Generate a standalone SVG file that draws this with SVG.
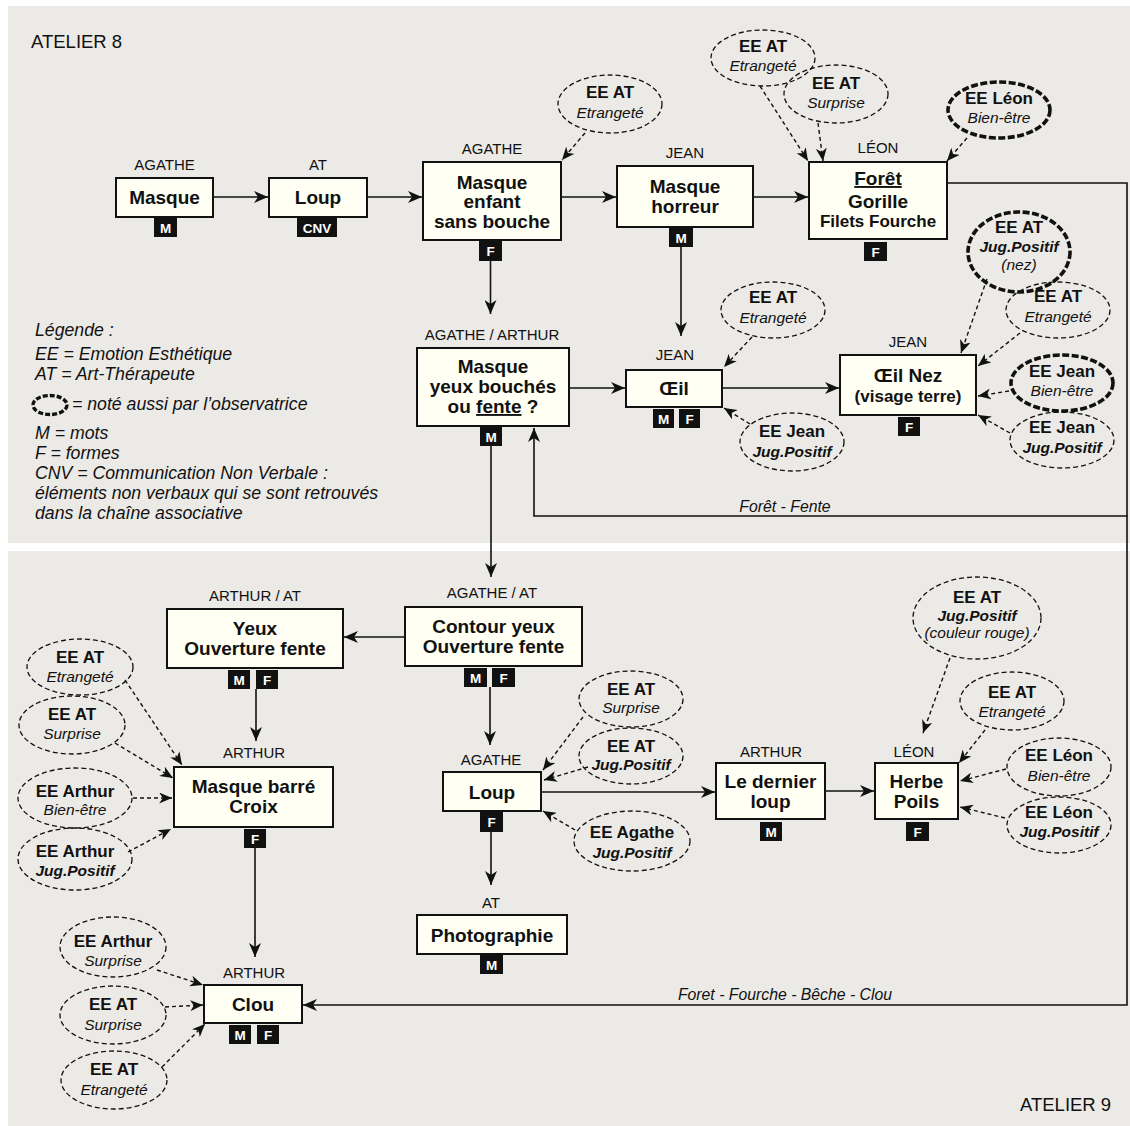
<svg xmlns="http://www.w3.org/2000/svg" width="1130" height="1126" viewBox="0 0 1130 1126">
<defs>
<style>
.bg{fill:#eceae6}
.box{fill:#fffff3;stroke:#111;stroke-width:2}
.tag{fill:#111}
.tagt{font:bold 13.5px "Liberation Sans",Arial,sans-serif;fill:#fff;text-anchor:middle}
.who{font:15px "Liberation Sans",Arial,sans-serif;fill:#111;text-anchor:middle}
.nt{font:bold 19px "Liberation Sans",Arial,sans-serif;fill:#111;text-anchor:middle}
.ns{font:bold 17px "Liberation Sans",Arial,sans-serif;fill:#111;text-anchor:middle}
.ee{fill:none;stroke:#111;stroke-width:1.3;stroke-dasharray:5 3}
.obs{fill:none;stroke:#111;stroke-width:3.6;stroke-dasharray:7 2.5}
.eb{font:bold 17px "Liberation Sans",Arial,sans-serif;fill:#111;text-anchor:middle}
.ei{font:italic 15.5px "Liberation Sans",Arial,sans-serif;fill:#111;text-anchor:middle}
.ebi{font:bold italic 15.5px "Liberation Sans",Arial,sans-serif;fill:#111;text-anchor:middle}
.leg{font:italic 17.7px "Liberation Sans",Arial,sans-serif;fill:#111}
.title{font:18.5px "Liberation Sans",Arial,sans-serif;fill:#111}
.cl{font:italic 15.8px "Liberation Sans",Arial,sans-serif;fill:#111;text-anchor:middle}
.c{fill:none;stroke:#111;stroke-width:1.6;marker-end:url(#ah)}
.d{fill:none;stroke:#111;stroke-width:1.4;stroke-dasharray:4 3;marker-end:url(#ad)}
</style>
<marker id="ah" viewBox="0 0 14 12" refX="14" refY="6" markerWidth="14" markerHeight="12" orient="auto" markerUnits="userSpaceOnUse"><path d="M0,0 L14,6 L0,12 L4,6 z" fill="#111"/></marker>
<marker id="ad" viewBox="0 0 14 12" refX="14" refY="6" markerWidth="13" markerHeight="11" orient="auto" markerUnits="userSpaceOnUse"><path d="M0,0 L14,6 L0,12 L4,6 z" fill="#111"/></marker>
</defs>
<rect x="0" y="0" width="1130" height="1126" fill="#fff"/>
<rect class="bg" x="8" y="6" width="1122" height="537"/>
<rect class="bg" x="8" y="551" width="1122" height="575"/>
<text class="title" x="31" y="48">ATELIER 8</text>
<text class="title" x="1020" y="1111">ATELIER 9</text>

<g id="legend">
<text class="leg" x="35" y="336">Légende :</text>
<text class="leg" x="35" y="360">EE = Emotion Esthétique</text>
<text class="leg" x="35" y="380">AT = Art-Thérapeute</text>
<ellipse class="obs" cx="50" cy="405" rx="17" ry="9.5" style="stroke-width:3.4;stroke-dasharray:5 2"/>
<text class="leg" x="72" y="410">= noté aussi par l’observatrice</text>
<text class="leg" x="35" y="439">M = mots</text>
<text class="leg" x="35" y="459">F = formes</text>
<text class="leg" x="35" y="479">CNV = Communication Non Verbale :</text>
<text class="leg" x="35" y="499">éléments non verbaux qui se sont retrouvés</text>
<text class="leg" x="35" y="519">dans la chaîne associative</text>
</g>

<g id="connectors">
<line class="c" x1="214" y1="197" x2="268" y2="197"/>
<line class="c" x1="368" y1="197" x2="422" y2="197"/>
<line class="c" x1="562" y1="197" x2="616" y2="197"/>
<line class="c" x1="754" y1="197" x2="808" y2="197"/>
<line class="c" x1="490.5" y1="261" x2="490.5" y2="314"/>
<line class="c" x1="681" y1="247" x2="681" y2="336"/>
<line class="c" x1="570" y1="388" x2="625" y2="388"/>
<line class="c" x1="723" y1="388" x2="839" y2="388"/>
<path class="c" d="M948,183 H1127 V516 H534 V428"/>
<path class="c" d="M1127,516 V1005 H303"/>
<line class="c" x1="491" y1="446" x2="491" y2="577"/>
<line class="c" x1="404" y1="637" x2="344" y2="637"/>
<line class="c" x1="490" y1="687" x2="490" y2="745"/>
<line class="c" x1="256" y1="689" x2="256" y2="741"/>
<line class="c" x1="255" y1="848" x2="255" y2="957"/>
<line class="c" x1="491" y1="832" x2="491" y2="885"/>
<line class="c" x1="542" y1="792" x2="715" y2="792"/>
<line class="c" x1="826" y1="791" x2="874" y2="791"/>
<text class="cl" x="785" y="512">Forêt - Fente</text>
<text class="cl" x="785" y="1000">Foret - Fourche - Bêche - Clou</text>
<line class="d" x1="585" y1="133" x2="562" y2="160"/>
<line class="d" x1="760" y1="86" x2="808" y2="161"/>
<line class="d" x1="818" y1="123" x2="823" y2="161"/>
<line class="d" x1="967" y1="138" x2="947" y2="161"/>
<line class="d" x1="987" y1="279" x2="961" y2="353"/>
<line class="d" x1="1020" y1="333" x2="978" y2="366"/>
<line class="d" x1="1009" y1="391" x2="978" y2="396"/>
<line class="d" x1="1010" y1="433" x2="978" y2="415"/>
<line class="d" x1="752" y1="337" x2="724" y2="367"/>
<line class="d" x1="750" y1="424" x2="724" y2="408"/>
<line class="d" x1="950" y1="658" x2="923" y2="733"/>
<line class="d" x1="985" y1="730" x2="959" y2="763"/>
<line class="d" x1="1006" y1="769" x2="960" y2="781"/>
<line class="d" x1="1005" y1="818" x2="960" y2="807"/>
<line class="d" x1="583" y1="717" x2="543" y2="770"/>
<line class="d" x1="588" y1="767" x2="544" y2="780"/>
<line class="d" x1="575" y1="830" x2="543" y2="811"/>
<line class="d" x1="125" y1="680" x2="182" y2="765"/>
<line class="d" x1="115" y1="743" x2="173" y2="778"/>
<line class="d" x1="133" y1="798" x2="172" y2="798"/>
<line class="d" x1="128" y1="852" x2="171" y2="829"/>
<line class="d" x1="157" y1="970" x2="203" y2="985"/>
<line class="d" x1="165" y1="1007" x2="203" y2="1005"/>
<line class="d" x1="162" y1="1067" x2="205" y2="1024"/>
</g>

<g id="n-masque">
<text class="who" x="164.5" y="170">AGATHE</text>
<rect class="box" x="116" y="178" width="97" height="39"/>
<text class="nt" x="164.5" y="204">Masque</text>
<rect class="tag" x="154" y="218" width="23" height="19"/><text class="tagt" x="165.5" y="232.5">M</text>
</g>
<g id="n-loup1">
<text class="who" x="318" y="170">AT</text>
<rect class="box" x="269" y="178" width="98" height="39"/>
<text class="nt" x="318" y="204">Loup</text>
<rect class="tag" x="297" y="218" width="40" height="19"/><text class="tagt" x="317" y="232.5">CNV</text>
</g>
<g id="n-mesb">
<text class="who" x="492" y="154">AGATHE</text>
<rect class="box" x="423" y="162" width="138" height="78"/>
<text class="nt" x="492" y="189">Masque</text>
<text class="nt" x="492" y="208">enfant</text>
<text class="nt" x="492" y="228">sans bouche</text>
<rect class="tag" x="479" y="241" width="23" height="20"/><text class="tagt" x="490.5" y="256">F</text>
</g>
<g id="n-horreur">
<text class="who" x="685" y="158">JEAN</text>
<rect class="box" x="617" y="166" width="136" height="61"/>
<text class="nt" x="685" y="193">Masque</text>
<text class="nt" x="685" y="213">horreur</text>
<rect class="tag" x="669" y="228" width="24" height="19"/><text class="tagt" x="681" y="242.5">M</text>
</g>
<g id="n-foret">
<text class="who" x="878" y="153">LÉON</text>
<rect class="box" x="809" y="162" width="138" height="77"/>
<text class="nt" x="878" y="185"><tspan text-decoration="underline">Forêt </tspan></text>
<text class="nt" x="878" y="208">Gorille</text>
<text class="ns" x="878" y="227">Filets Fourche</text>
<rect class="tag" x="864" y="242" width="23" height="19"/><text class="tagt" x="875.5" y="256.5">F</text>
</g>
<g id="n-myb">
<text class="who" x="492" y="340">AGATHE / ARTHUR</text>
<rect class="box" x="417" y="348" width="152" height="78"/>
<text class="nt" x="493" y="373">Masque</text>
<text class="nt" x="493" y="393">yeux bouchés</text>
<text class="nt" x="493" y="413">ou <tspan text-decoration="underline">fente</tspan> ?</text>
<rect class="tag" x="480" y="427" width="22" height="19"/><text class="tagt" x="491" y="441.5">M</text>
</g>
<g id="n-oeil">
<text class="who" x="675" y="360">JEAN</text>
<rect class="box" x="626" y="370" width="96" height="37"/>
<text class="nt" x="674" y="395">Œil</text>
<rect class="tag" x="653" y="409" width="21" height="19"/><text class="tagt" x="663.5" y="423.5">M</text>
<rect class="tag" x="679" y="409" width="21" height="19"/><text class="tagt" x="689.5" y="423.5">F</text>
</g>
<g id="n-oeilnez">
<text class="who" x="908" y="347">JEAN</text>
<rect class="box" x="840" y="355" width="136" height="60"/>
<text class="nt" x="908" y="382">Œil Nez</text>
<text class="ns" x="908" y="402">(visage terre)</text>
<rect class="tag" x="898" y="417" width="22" height="19"/><text class="tagt" x="909" y="431.5">F</text>
</g>

<g id="n-contour">
<text class="who" x="492" y="598">AGATHE / AT</text>
<rect class="box" x="405" y="607" width="177" height="59"/>
<text class="nt" x="493.5" y="633">Contour yeux</text>
<text class="nt" x="493.5" y="653">Ouverture fente</text>
<rect class="tag" x="464" y="668" width="23" height="19"/><text class="tagt" x="475.5" y="682.5">M</text>
<rect class="tag" x="492" y="668" width="23" height="19"/><text class="tagt" x="503.5" y="682.5">F</text>
</g>
<g id="n-yeux">
<text class="who" x="255" y="601">ARTHUR / AT</text>
<rect class="box" x="167" y="609" width="176" height="59"/>
<text class="nt" x="255" y="635">Yeux</text>
<text class="nt" x="255" y="655">Ouverture fente</text>
<rect class="tag" x="228" y="670" width="22" height="19"/><text class="tagt" x="239" y="684.5">M</text>
<rect class="tag" x="256" y="670" width="22" height="19"/><text class="tagt" x="267" y="684.5">F</text>
</g>
<g id="n-barre">
<text class="who" x="254" y="758">ARTHUR</text>
<rect class="box" x="174" y="767" width="159" height="60"/>
<text class="nt" x="253.5" y="793">Masque barré</text>
<text class="nt" x="253.5" y="813">Croix</text>
<rect class="tag" x="244" y="829" width="22" height="19"/><text class="tagt" x="255" y="843.5">F</text>
</g>
<g id="n-clou">
<text class="who" x="254" y="978">ARTHUR</text>
<rect class="box" x="204" y="985" width="98" height="38"/>
<text class="nt" x="253" y="1011">Clou</text>
<rect class="tag" x="229" y="1025" width="22" height="19"/><text class="tagt" x="240" y="1039.5">M</text>
<rect class="tag" x="257" y="1025" width="22" height="19"/><text class="tagt" x="268" y="1039.5">F</text>
</g>
<g id="n-loup2">
<text class="who" x="491" y="765">AGATHE</text>
<rect class="box" x="443" y="772" width="98" height="39"/>
<text class="nt" x="492" y="799">Loup</text>
<rect class="tag" x="480" y="812" width="23" height="20"/><text class="tagt" x="491.5" y="827">F</text>
</g>
<g id="n-photo">
<text class="who" x="491" y="908">AT</text>
<rect class="box" x="417" y="915" width="150" height="39"/>
<text class="nt" x="492" y="942">Photographie</text>
<rect class="tag" x="480" y="955" width="23" height="19"/><text class="tagt" x="491.5" y="969.5">M</text>
</g>
<g id="n-dernier">
<text class="who" x="771" y="757">ARTHUR</text>
<rect class="box" x="716" y="763" width="109" height="56"/>
<text class="nt" x="770.5" y="788">Le dernier</text>
<text class="nt" x="770.5" y="808">loup</text>
<rect class="tag" x="760" y="822" width="22" height="19"/><text class="tagt" x="771" y="836.5">M</text>
</g>
<g id="n-herbe">
<text class="who" x="914" y="757">LÉON</text>
<rect class="box" x="875" y="763" width="83" height="56"/>
<text class="nt" x="916.5" y="788">Herbe</text>
<text class="nt" x="916.5" y="808">Poils</text>
<rect class="tag" x="906" y="822" width="23" height="19"/><text class="tagt" x="917.5" y="836.5">F</text>
</g>

<g id="e1"><ellipse class="ee" cx="610" cy="104" rx="52" ry="29"/><text class="eb" x="610" y="98">EE AT</text><text class="ei" x="610" y="118">Etrangeté</text></g>
<g id="e2"><ellipse class="ee" cx="763" cy="58" rx="52" ry="28"/><text class="eb" x="763" y="52">EE AT</text><text class="ei" x="763" y="71">Etrangeté</text></g>
<g id="e3"><ellipse class="ee" cx="836" cy="94" rx="52" ry="29"/><text class="eb" x="836" y="89">EE AT</text><text class="ei" x="836" y="108">Surprise</text></g>
<g id="e4"><ellipse class="obs" cx="999" cy="110" rx="51" ry="28"/><text class="eb" x="999" y="104">EE Léon</text><text class="ei" x="999" y="123">Bien-être</text></g>
<g id="e5"><ellipse class="obs" cx="1019" cy="252" rx="51" ry="40"/><text class="eb" x="1019" y="233">EE AT</text><text class="ebi" x="1019" y="252">Jug.Positif</text><text class="ei" x="1019" y="270">(nez)</text></g>
<g id="e6"><ellipse class="ee" cx="1058" cy="310" rx="52" ry="28"/><text class="eb" x="1058" y="302">EE AT</text><text class="ei" x="1058" y="322">Etrangeté</text></g>
<g id="e7"><ellipse class="obs" cx="1062" cy="383" rx="51" ry="28"/><text class="eb" x="1062" y="377">EE Jean</text><text class="ei" x="1062" y="396">Bien-être</text></g>
<g id="e8"><ellipse class="ee" cx="1062" cy="440" rx="52" ry="28"/><text class="eb" x="1062" y="433">EE Jean</text><text class="ebi" x="1062" y="453">Jug.Positif</text></g>
<g id="e9"><ellipse class="ee" cx="773" cy="310" rx="52" ry="28"/><text class="eb" x="773" y="303">EE AT</text><text class="ei" x="773" y="323">Etrangeté</text></g>
<g id="e10"><ellipse class="ee" cx="792" cy="442" rx="52" ry="29"/><text class="eb" x="792" y="437">EE Jean</text><text class="ebi" x="792" y="457">Jug.Positif</text></g>
<g id="e11"><ellipse class="ee" cx="977" cy="618" rx="64" ry="41"/><text class="eb" x="977" y="603">EE AT</text><text class="ebi" x="977" y="621">Jug.Positif</text><text class="ei" x="977" y="638">(couleur rouge)</text></g>
<g id="e12"><ellipse class="ee" cx="1012" cy="701" rx="52" ry="29"/><text class="eb" x="1012" y="698">EE AT</text><text class="ei" x="1012" y="717">Etrangeté</text></g>
<g id="e13"><ellipse class="ee" cx="1059" cy="767" rx="52" ry="29"/><text class="eb" x="1059" y="761">EE Léon</text><text class="ei" x="1059" y="781">Bien-être</text></g>
<g id="e14"><ellipse class="ee" cx="1059" cy="825" rx="52" ry="28"/><text class="eb" x="1059" y="818">EE Léon</text><text class="ebi" x="1059" y="837">Jug.Positif</text></g>
<g id="e15"><ellipse class="ee" cx="631" cy="699" rx="52" ry="28"/><text class="eb" x="631" y="695">EE AT</text><text class="ei" x="631" y="713">Surprise</text></g>
<g id="e16"><ellipse class="ee" cx="631" cy="756" rx="52" ry="28"/><text class="eb" x="631" y="752">EE AT</text><text class="ebi" x="631" y="770">Jug.Positif</text></g>
<g id="e17"><ellipse class="ee" cx="632" cy="841" rx="58" ry="30"/><text class="eb" x="632" y="838">EE Agathe</text><text class="ebi" x="632" y="858">Jug.Positif</text></g>
<g id="e18"><ellipse class="ee" cx="80" cy="667" rx="53" ry="28"/><text class="eb" x="80" y="663">EE AT</text><text class="ei" x="80" y="682">Etrangeté</text></g>
<g id="e19"><ellipse class="ee" cx="72" cy="725" rx="53" ry="29"/><text class="eb" x="72" y="720">EE AT</text><text class="ei" x="72" y="739">Surprise</text></g>
<g id="e20"><ellipse class="ee" cx="75" cy="798" rx="57" ry="30"/><text class="eb" x="75" y="797">EE Arthur</text><text class="ei" x="75" y="815">Bien-être</text></g>
<g id="e21"><ellipse class="ee" cx="75" cy="859" rx="57" ry="31"/><text class="eb" x="75" y="857">EE Arthur</text><text class="ebi" x="75" y="876">Jug.Positif</text></g>
<g id="e22"><ellipse class="ee" cx="113" cy="947" rx="53" ry="30"/><text class="eb" x="113" y="947">EE Arthur</text><text class="ei" x="113" y="966">Surprise</text></g>
<g id="e23"><ellipse class="ee" cx="113" cy="1015" rx="53" ry="29"/><text class="eb" x="113" y="1010">EE AT</text><text class="ei" x="113" y="1030">Surprise</text></g>
<g id="e24"><ellipse class="ee" cx="114" cy="1080" rx="53" ry="29"/><text class="eb" x="114" y="1075">EE AT</text><text class="ei" x="114" y="1095">Etrangeté</text></g>
</svg>
